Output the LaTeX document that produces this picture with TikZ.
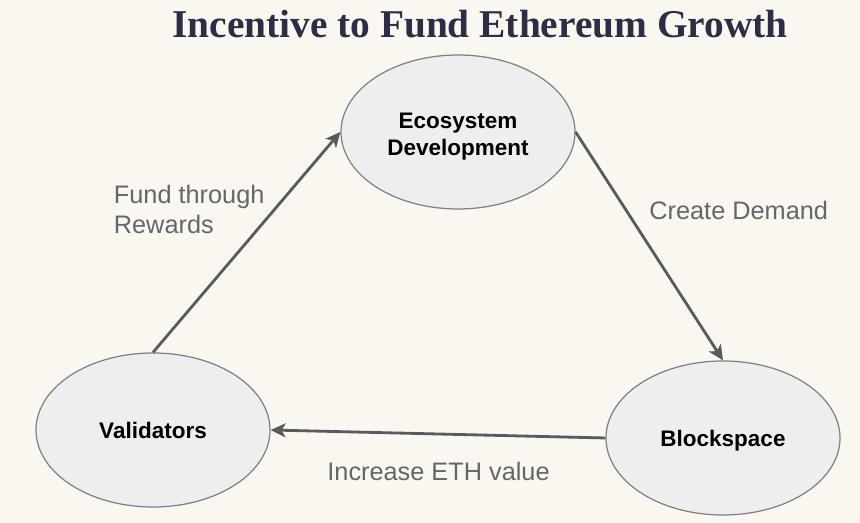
\documentclass[tikz,border=0pt]{standalone}
\usepackage{fontspec}
\setmainfont{Liberation Sans}
\newfontfamily\titlefont{Liberation Serif}
\usetikzlibrary{shapes.geometric,arrows.meta}
\definecolor{paper}{HTML}{FAF7F1}
\definecolor{bubble}{HTML}{EEEEEE}
\definecolor{edgegray}{HTML}{5A5A5A}
\definecolor{labelgray}{HTML}{666666}
\definecolor{titleink}{HTML}{2F2C45}
\begin{document}
\begin{tikzpicture}[
        -{Stealth[length=0.3cm,width=0.28cm,inset=0.08cm]}, % Arrow style
        line width=1.6pt, % line style
        x=1cm, y=1cm
      ]

      \tikzstyle{bubblenode}=[ellipse,draw=black!50,line width=0.7pt,fill=bubble,text=black,
        minimum width=4.68cm,minimum height=3.08cm,inner sep=0pt,align=center,
        font=\fontsize{12.8}{15.5}\selectfont\bfseries]
      \tikzstyle{edgelabel}=[text=labelgray,align=left,inner sep=0pt,
        font=\fontsize{14.4}{17}\selectfont]

      % background
      \fill[paper,draw=none] (0,0) rectangle (17.2,10.46);
      \useasboundingbox (0,0) rectangle (17.2,10.46);

      \node[text=titleink,inner sep=0pt] (title) at (9.6,9.98) {\titlefont\fontsize{22.4}{26}\selectfont\bfseries Incentive to Fund Ethereum Growth};

      \node[bubblenode] (eco) at (9.16,7.82) {\rule{0pt}{14pt}Ecosystem\\Development};
      \node[bubblenode] (val) at (3.06,1.86) {Validators};
      \node[bubblenode] (blk) at (14.46,1.70) {\rule{0pt}{12pt}Blockspace};

      \node[edgelabel,anchor=west] (fund) at (2.25,6.27) {Fund through\\Rewards};
      \node[edgelabel,anchor=west] (demand) at (12.96,6.26) {Create Demand};
      \node[edgelabel,anchor=west] (incr) at (6.52,1.04) {Increase ETH value};

      \draw[edgegray] (val.north) -- (eco.west);
      \draw[edgegray] (eco.east) -- (blk.north);
      \draw[edgegray] (blk.west) -- (val.east);

    \end{tikzpicture}
\end{document}
